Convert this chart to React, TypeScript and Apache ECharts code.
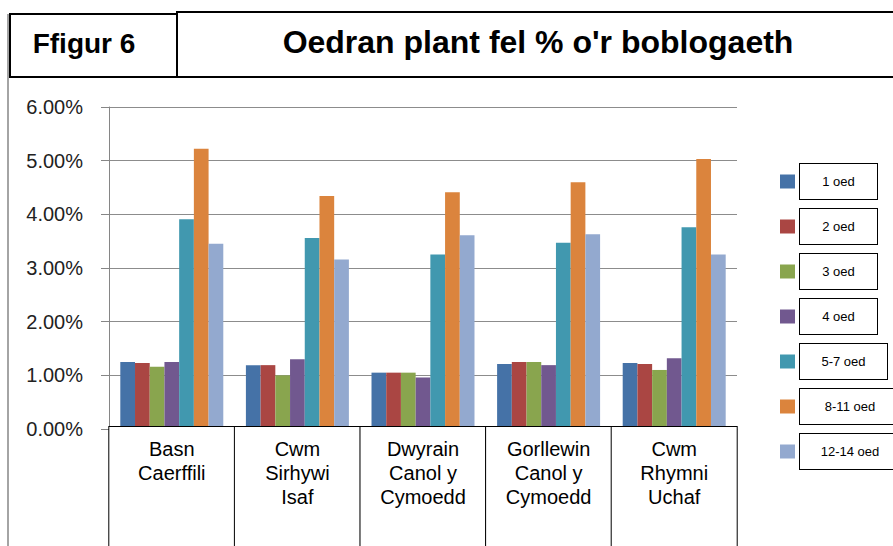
import React, { useEffect, useRef } from "react";
import * as echarts from "echarts";

const categories = [
  "Basn\nCaerffili",
  "Cwm\nSirhywi\nIsaf",
  "Dwyrain\nCanol y\nCymoedd",
  "Gorllewin\nCanol y\nCymoedd",
  "Cwm\nRhymni\nUchaf",
];
const seriesNames = ["1 oed", "2 oed", "3 oed", "4 oed", "5-7 oed", "8-11 oed", "12-14 oed"];
const age1 = [1.25, 1.19, 1.05, 1.21, 1.23];
const age2 = [1.23, 1.19, 1.05, 1.25, 1.21];
const age3 = [1.16, 1.0, 1.05, 1.25, 1.1];
const age4 = [1.25, 1.3, 0.96, 1.19, 1.32];
const age5to7 = [3.91, 3.56, 3.25, 3.47, 3.76];
const age8to11 = [5.22, 4.34, 4.41, 4.6, 5.03];
const age12to14 = [3.45, 3.16, 3.61, 3.63, 3.25];
const seriesValues = [age1, age2, age3, age4, age5to7, age8to11, age12to14];
const colors = ["#4572A7", "#AA4643", "#89A54E", "#71588F", "#4198AF", "#DB843D", "#93A9CF"];
const yMin = 0;
const yMax = 6;
const yStep = 1;
const figureLabel = "Ffigur 6";
const titleText = "Oedran plant fel % o'r boblogaeth";

const FONT = "'Liberation Sans', Arial, sans-serif";

export default function App() {
  const ref = useRef<HTMLDivElement>(null);
  useEffect(() => {
    if (!ref.current) return;
    const chart = echarts.init(ref.current, null, { renderer: "svg" });
    const legendBoxKey = (name: string) => {
      const i = seriesNames.indexOf(name);
      return i < 4 ? "a" : i === 4 ? "b" : "c";
    };
    const boxStyle = (w: number) => ({
      width: w,
      height: 35,
      lineHeight: 35,
      align: "center",
      verticalAlign: "middle",
      borderColor: "#000",
      borderWidth: 1,
      backgroundColor: "#fff",
      fontSize: 13,
      fontFamily: FONT,
      color: "#000",
    });
    chart.setOption({
      animation: false,
      backgroundColor: "#fff",
      color: colors,
      textStyle: { fontFamily: FONT },
      grid: {
        left: 109,
        right: 156,
        top: 107,
        bottom: 117,
        containLabel: false,
        outerBoundsMode: "none",
      },
      legend: {
        orient: "vertical",
        left: 775,
        top: 158,
        itemWidth: 15,
        itemHeight: 14,
        itemGap: 8,
        icon: "rect",
        selectedMode: false,
        data: seriesNames,
        formatter: (name: string) => `{${legendBoxKey(name)}|${name}}`,
        textStyle: {
          rich: {
            a: boxStyle(77),
            b: boxStyle(87),
            c: boxStyle(100),
          },
        },
      },
      xAxis: {
        type: "category",
        data: categories,
        z: 5,
        axisLine: { show: true, lineStyle: { color: "#868686" } },
        axisTick: { show: false },
        axisLabel: {
          interval: 0,
          margin: -2,
          fontSize: 20,
          lineHeight: 24,
          fontFamily: FONT,
          color: "#000",
          width: 125,
          height: 140,
          padding: [10, 0, 0, 0],
          borderColor: "#000",
          borderWidth: 1,
          backgroundColor: "#fff",
          verticalAlign: "top",
        },
      },
      yAxis: {
        type: "value",
        min: yMin,
        max: yMax,
        interval: yStep,
        axisLine: { show: true, lineStyle: { color: "#868686" } },
        axisTick: { show: true, inside: false, length: 8, lineStyle: { color: "#868686" } },
        splitLine: { show: true, lineStyle: { color: "#8c8c8c", width: 1 } },
        axisLabel: {
          margin: 26,
          fontSize: 20,
          fontFamily: FONT,
          color: "#222",
          formatter: (v: number) => v.toFixed(2) + "%",
        },
      },
      series: seriesNames.map((name, i) => ({
        name,
        type: "bar",
        data: seriesValues[i],
        barGap: "0%",
        barCategoryGap: "18%",
        itemStyle: { color: colors[i] },
      })),
      graphic: [
        {
          type: "line",
          shape: { x1: 8, y1: 14, x2: 8, y2: 546 },
          style: { stroke: "#868686", lineWidth: 1.5 },
          z: 10,
        },
        {
          type: "rect",
          shape: { x: 10, y: 14, width: 167, height: 63 },
          style: { fill: "#fff", stroke: "#000", lineWidth: 2 },
          z: 10,
        },
        {
          type: "rect",
          shape: { x: 177, y: 12, width: 740, height: 65 },
          style: { fill: "#fff", stroke: "#000", lineWidth: 2 },
          z: 10,
        },
        {
          type: "text",
          x: 84,
          y: 43,
          z: 11,
          style: {
            text: figureLabel,
            font: `bold 28px ${FONT}`,
            fill: "#000",
            textAlign: "center",
            textVerticalAlign: "middle",
          },
        },
        {
          type: "text",
          x: 538,
          y: 42,
          z: 11,
          style: {
            text: titleText,
            font: `bold 32px ${FONT}`,
            fill: "#000",
            textAlign: "center",
            textVerticalAlign: "middle",
          },
        },
      ],
    });
    return () => chart.dispose();
  }, []);
  return (
    <div
      ref={ref}
      style={{ position: "absolute", left: 0, top: 0, width: 893, height: 546 }}
    />
  );
}
